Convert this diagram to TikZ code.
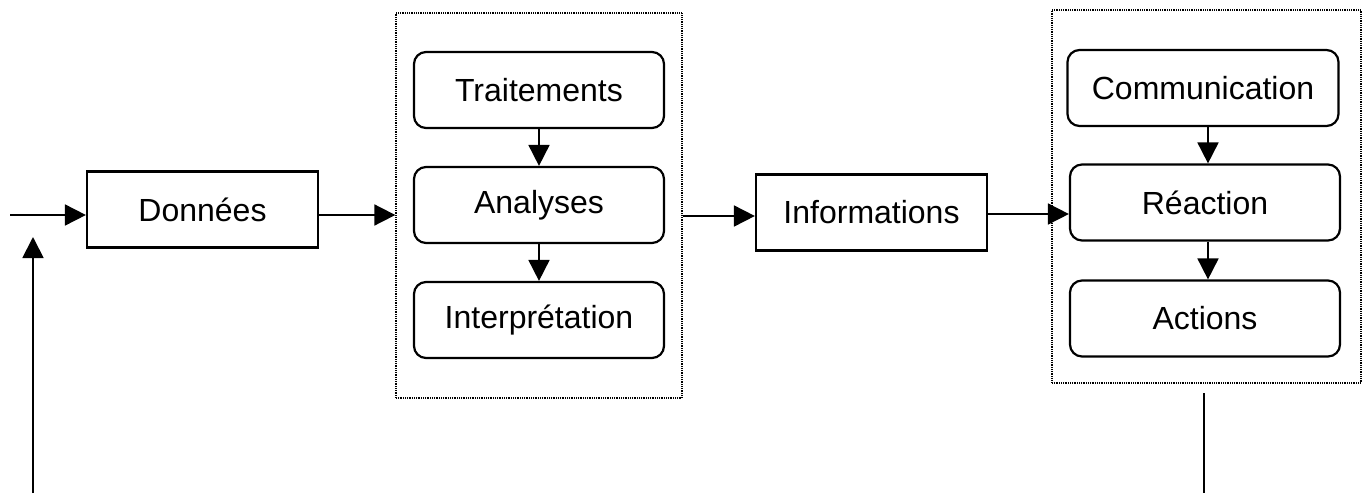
\documentclass[tikz,border=0pt]{standalone}
\usepackage{fontspec}
\setmainfont{Liberation Sans}
\usetikzlibrary{arrows.meta,calc}
\begin{document}
\begin{tikzpicture}[x=1pt,y=-1pt,
  every node/.style={font=\fontsize{32}{37}\selectfont},
  sqbox/.style={draw,line width=2.2pt,minimum width=231pt,minimum height=76pt,inner sep=0pt},
  rbox/.style={draw,line width=2.2pt,rounded corners=12pt,minimum height=76pt,inner sep=0pt},
  grp/.style={draw,line width=1.3pt,dash pattern=on 1pt off 0.8pt},
  arr/.style={line width=1.8pt,-{Triangle[length=21pt,width=21pt]}},
  ln/.style={line width=1.8pt}]
\useasboundingbox (0,0) rectangle (1363,493);
% groups
\node[grp,minimum width=286pt,minimum height=385pt,inner sep=0pt] (g1) at (539,205.5) {};
\node[grp,minimum width=309pt,minimum height=373pt,inner sep=0pt] (g2) at (1206.5,196.5) {};
% boxes
\node[sqbox] (dat) at (202.5,209.5) {Données};
\node[sqbox] (inf) at (871.5,212.5) {Informations};
\node[rbox,minimum width=250pt] (tra) at (539,90) {Traitements};
\node[rbox,minimum width=250pt] (ana) at (539,205) {Analyses};
\node[rbox,minimum width=250pt] (int) at (539,320) {Interprétation};
\node[rbox,minimum width=271pt] (com) at (1203,88) {Communication};
\node[rbox,minimum width=270pt] (rea) at (1205,202.5) {Réaction};
\node[rbox,minimum width=270pt] (act) at (1205,318.5) {Actions};
% free ends
\coordinate (in) at (10,215);
\coordinate (fb) at (33,493);
\coordinate (fbt) at (33,237);
\coordinate (out) at (1204,393);
\coordinate (outb) at (1204,493);
% connectors
\draw[arr] (in) -- (in -| dat.west);
\draw[arr] (fb) -- (fbt);
\draw[arr] ([yshift=-5.5pt]dat.east) -- ([yshift=-5.5pt]dat.east -| g1.west);
\draw[arr] (tra.south) -- (ana.north);
\draw[arr] (ana.south) -- (int.north);
\draw[arr] ([yshift=-3.5pt]inf.west -| g1.east) -- ([yshift=-3.5pt]inf.west);
\draw[arr] ([yshift=-1.5pt]inf.east) -- ([yshift=-1.5pt]inf.east -| rea.west);
\draw[arr] ([xshift=5pt]com.south) -- ([xshift=3pt]rea.north);
\draw[arr] ([xshift=3pt]rea.south) -- ([xshift=3pt]act.north);
\draw[ln] (out) -- (outb);
\end{tikzpicture}
\end{document}
